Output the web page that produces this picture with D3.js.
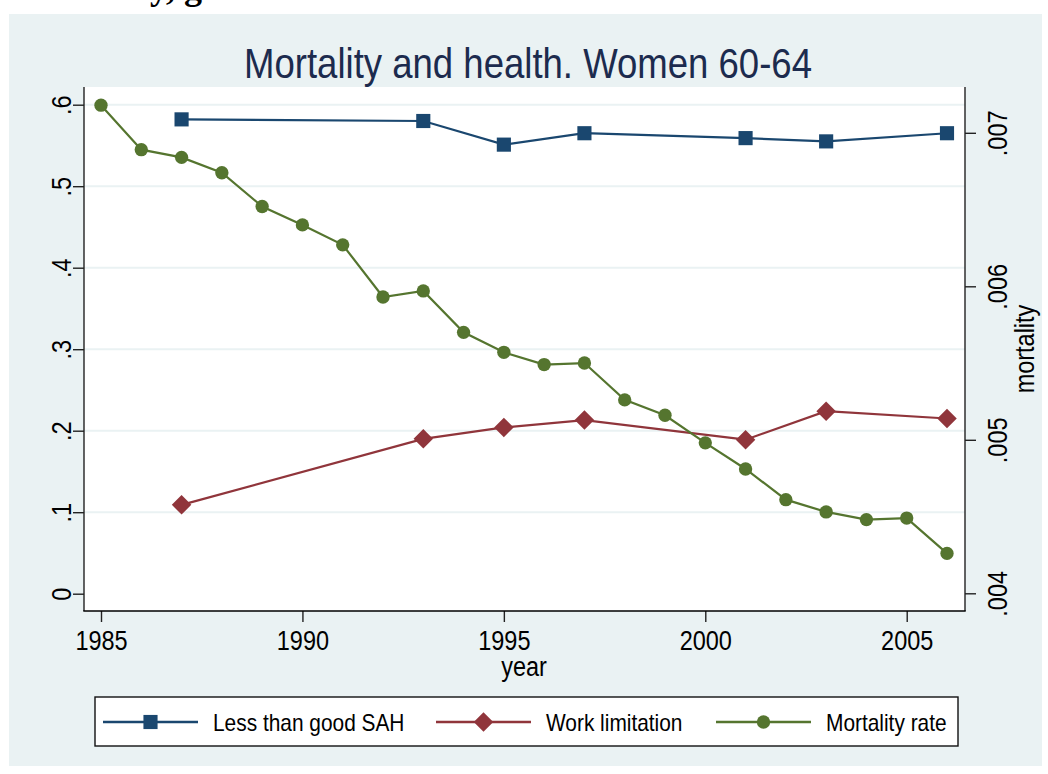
<!DOCTYPE html>
<html>
<head>
<meta charset="utf-8">
<script src="https://cdn.jsdelivr.net/npm/d3@7/dist/d3.min.js"></script>
<style>
  body { margin: 0; background: #fff; }
  text { font-family: "Liberation Sans", Arial, sans-serif; }
</style>
</head>
<body>
<div id="chart"></div>
<script>
// data
const mortYears = [1985, 1986, 1987, 1988, 1989, 1990, 1991, 1992, 1993, 1994, 1995,
  1996, 1997, 1998, 1999, 2000, 2001, 2002, 2003, 2004, 2005, 2006];
const mortalityRate = [0.00718, 0.00689, 0.00684, 0.00674, 0.00652, 0.00640, 0.00627,
  0.00593, 0.00597, 0.00570, 0.00557, 0.00549, 0.00550, 0.00526, 0.00516, 0.00498,
  0.00481, 0.00461, 0.00453, 0.00448, 0.00449, 0.00426];
const surveyYears = [1987, 1993, 1995, 1997, 2001, 2003, 2006];
const lessGoodSAH = [0.582, 0.580, 0.551, 0.565, 0.559, 0.555, 0.565];
const workLimitation = [0.109, 0.190, 0.204, 0.213, 0.189, 0.224, 0.215];

const yearTicks = [1985, 1990, 1995, 2000, 2005];
const leftTicks = [0, 0.1, 0.2, 0.3, 0.4, 0.5, 0.6];
const rightTicks = [0.004, 0.005, 0.006, 0.007];
const legendLabels = ['Less than good SAH', 'Work limitation', 'Mortality rate'];

const W = 1048, H = 774;
const navy = '#1a476f', maroon = '#90353b', green = '#55752f';
const bg = '#eaf2f3';
const squeeze = 0.87; // the stata font is narrower than arial

const plot = { left: 84, right: 965, top: 87, bottom: 611 };

const x = d3.scaleLinear().domain([1985, 2006]).range([101, 947]);
const yL = d3.scaleLinear().domain([0, 0.6]).range([593.7, 104.7]);
const yR = d3.scaleLinear().domain([0.004, 0.007]).range([593.3, 132.8]);

const stataFmt = d => d === 0 ? '0' : d3.format('.3~f')(d).replace(/^0/, '');

const svg = d3.select('#chart').append('svg')
  .attr('width', W)
  .attr('height', H);

svg.append('rect').attr('width', W).attr('height', H).attr('fill', '#fff');

// bit of the document heading that got cropped off, only descenders show
svg.append('text')
  .attr('x', 20).attr('y', -1)
  .style('font-family', '"Liberation Serif", serif')
  .style('font-weight', 'bold')
  .style('font-size', '36px')
  .text('Mortality, gender');

svg.append('rect')
  .attr('x', 9).attr('y', 14)
  .attr('width', W - 15).attr('height', H - 22)
  .attr('fill', bg);

svg.append('rect')
  .attr('x', plot.left).attr('y', plot.top)
  .attr('width', plot.right - plot.left).attr('height', plot.bottom - plot.top)
  .attr('fill', '#fff');

// gridlines
svg.append('g').selectAll('line')
  .data(leftTicks.filter(d => d > 0))
  .enter().append('line')
  .attr('x1', plot.left).attr('x2', plot.right)
  .attr('y1', d => yL(d)).attr('y2', d => yL(d))
  .attr('stroke', bg)
  .attr('stroke-width', 2);

function styleAxis(g) {
  g.select('.domain').remove();
  g.selectAll('.tick line').attr('stroke', '#222').attr('stroke-width', 1.4);
  g.selectAll('.tick text')
    .attr('fill', '#000')
    .style('font-size', '27px');
}

// left axis
const gl = svg.append('g')
  .attr('transform', `translate(${plot.left},0)`)
  .call(d3.axisLeft(yL).tickValues(leftTicks).tickSize(11).tickFormat(stataFmt))
  .call(styleAxis);
gl.selectAll('.tick text')
  .attr('x', null).attr('dy', null)
  .attr('text-anchor', 'middle')
  .attr('transform', `translate(-13,0) rotate(-90) scale(${squeeze},1)`);

// right axis
const gr = svg.append('g')
  .attr('transform', `translate(${plot.right},0)`)
  .call(d3.axisRight(yR).tickValues(rightTicks).tickSize(11).tickFormat(stataFmt))
  .call(styleAxis);
gr.selectAll('.tick text')
  .attr('x', null).attr('dy', null)
  .attr('text-anchor', 'middle')
  .attr('transform', `translate(42,0) rotate(-90) scale(${squeeze},1)`);

// bottom axis
const gb = svg.append('g')
  .attr('transform', `translate(0,${plot.bottom})`)
  .call(d3.axisBottom(x).tickValues(yearTicks).tickSize(11).tickFormat(d3.format('d')))
  .call(styleAxis);
gb.selectAll('.tick text')
  .attr('y', null).attr('dy', null)
  .attr('text-anchor', 'middle')
  .attr('transform', `translate(0,39) scale(${squeeze},1)`);

// axis lines
svg.append('line')
  .attr('x1', plot.left).attr('x2', plot.left)
  .attr('y1', plot.top).attr('y2', plot.bottom)
  .attr('stroke', '#222').attr('stroke-width', 1.4);
svg.append('line')
  .attr('x1', plot.right).attr('x2', plot.right)
  .attr('y1', plot.top).attr('y2', plot.bottom)
  .attr('stroke', '#222').attr('stroke-width', 1.4);
svg.append('line')
  .attr('x1', plot.left - 0.7).attr('x2', plot.right + 0.7)
  .attr('y1', plot.bottom).attr('y2', plot.bottom)
  .attr('stroke', '#000').attr('stroke-width', 1.4);

// titles
svg.append('text')
  .attr('transform', `translate(528,78) scale(${squeeze},1)`)
  .attr('text-anchor', 'middle')
  .attr('fill', '#1c2b4e')
  .style('font-size', '42px')
  .text('Mortality and health. Women 60-64');

svg.append('text')
  .attr('transform', `translate(524,676) scale(${squeeze},1)`)
  .attr('text-anchor', 'middle')
  .attr('fill', '#000')
  .style('font-size', '27px')
  .text('year');

svg.append('text')
  .attr('transform', `translate(1034,349) rotate(-90) scale(${squeeze},1)`)
  .attr('text-anchor', 'middle')
  .attr('fill', '#000')
  .style('font-size', '27px')
  .text('mortality');

// series; the diamond is a square turned 45 degrees
const series = [
  { xs: surveyYears, ys: lessGoodSAH, scale: yL, color: navy, shape: d3.symbolSquare, size: 200, turn: 0 },
  { xs: surveyYears, ys: workLimitation, scale: yL, color: maroon, shape: d3.symbolSquare, size: 190, turn: 45 },
  { xs: mortYears, ys: mortalityRate, scale: yR, color: green, shape: d3.symbolCircle, size: 140, turn: 0 },
];

series.forEach(s => {
  const pts = s.xs.map((yr, i) => [x(yr), s.scale(s.ys[i])]);
  svg.append('path')
    .attr('d', d3.line()(pts))
    .attr('fill', 'none')
    .attr('stroke', s.color)
    .attr('stroke-width', 2.2);
  svg.append('g').selectAll('path')
    .data(pts)
    .enter().append('path')
    .attr('transform', d => `translate(${d[0]},${d[1]}) rotate(${s.turn})`)
    .attr('d', d3.symbol().type(s.shape).size(s.size))
    .attr('fill', s.color);
});

// legend
const leg = svg.append('g');
leg.append('rect')
  .attr('x', 95).attr('y', 697)
  .attr('width', 863).attr('height', 49)
  .attr('fill', '#fff')
  .attr('stroke', '#111')
  .attr('stroke-width', 1.4);

const legX = [103, 436, 716];
series.forEach((s, i) => {
  const g = leg.append('g').attr('transform', `translate(${legX[i]},722)`);
  g.append('line')
    .attr('x1', 0).attr('x2', 95)
    .attr('stroke', s.color).attr('stroke-width', 2.4);
  g.append('path')
    .attr('transform', `translate(47.5,0) rotate(${s.turn})`)
    .attr('d', d3.symbol().type(s.shape).size(s.size))
    .attr('fill', s.color);
  g.append('text')
    .attr('transform', `translate(110,9) scale(${squeeze},1)`)
    .attr('fill', '#000')
    .style('font-size', '24px')
    .text(legendLabels[i]);
});
</script>
</body>
</html>
